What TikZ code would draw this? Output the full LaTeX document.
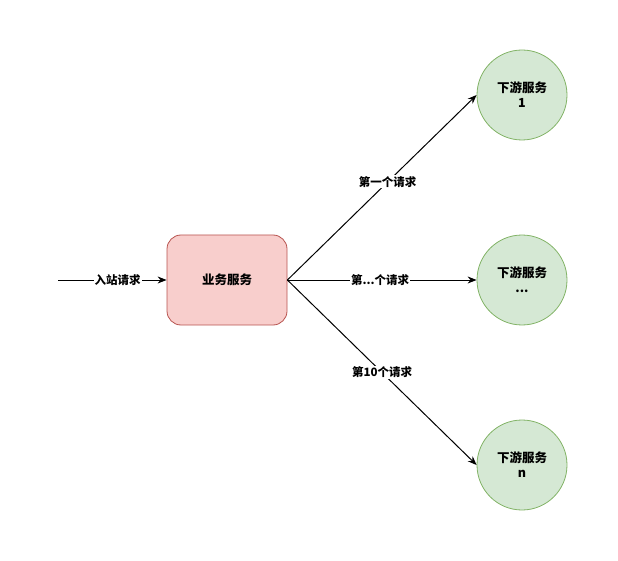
\documentclass[tikz,border=0pt]{standalone}
\usepackage{fontspec}
\newfontfamily\cjk{Noto Sans CJK SC}
\usepackage{tikz}
\usetikzlibrary{positioning, arrows.meta}
\usepackage{xcolor}
\definecolor{svcfill}{HTML}{F8CECC}
\definecolor{svcline}{HTML}{B85450}
\definecolor{dsfill}{HTML}{D5E8D4}
\definecolor{dsline}{HTML}{82B366}

\begin{document}
\begin{tikzpicture}[
  x=1pt, y=-1pt,
  svcbox/.style={rectangle, draw=svcline, line width=0.8pt, fill=svcfill, rounded corners=14pt, minimum width=120pt, minimum height=90pt, font=\cjk\bfseries\fontsize{12.5}{14}\selectfont},
  dsnode/.style={circle, draw=dsline, line width=0.8pt, fill=dsfill, minimum size=90pt, inner sep=0pt, align=center, font=\cjk\bfseries\fontsize{12.5}{15}\selectfont},
  lbl/.style={fill=white, inner sep=1pt, font=\cjk\bfseries\fontsize{11.5}{13}\selectfont},
  arr/.style={-{Stealth[length=9pt, width=7pt]}, line width=1pt}
]
\useasboundingbox (0,0) rectangle (618,561);
\coordinate (entry) at (58,280);
\node[svcbox] (svc) at (227,280) {业务服务};
\node[dsnode] (ds1) at (522,95) {下游服务\\1};
\node[dsnode] (ds2) at (522,280) {下游服务\\...};
\node[dsnode] (dsn) at (522,465) {下游服务\\n};
\draw[arr] (entry) -- node[lbl, pos=0.55] {入站请求} (svc.west);
\draw[arr] (svc.east) -- node[lbl, pos=0.53] {第一个请求} (ds1.west);
\draw[arr] (svc.east) -- node[lbl, pos=0.49] {第...个请求} (ds2.west);
\draw[arr] (svc.east) -- node[lbl, pos=0.5] {第10个请求} (dsn.west);
\end{tikzpicture}
\end{document}
